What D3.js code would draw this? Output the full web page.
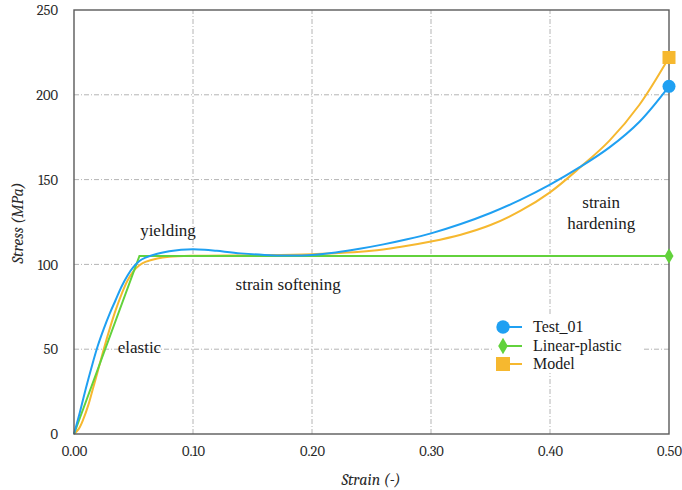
<!DOCTYPE html>
<html><head><meta charset="utf-8">
<script src="https://cdn.jsdelivr.net/npm/d3@7"></script>
<style>body{margin:0;background:#fff}svg{display:block}</style>
</head><body><svg id="c" width="682" height="490"></svg>
<script>
// ---- data ----
const testStrain = [0,0.005,0.01,0.015,0.02,0.025,0.03,0.035,0.04,0.045,0.05,0.055,0.06,0.07,0.08,0.09,0.1,0.11,0.12,0.14,0.16,0.18,0.2,0.22,0.24,0.26,0.28,0.3,0.325,0.35,0.375,0.4,0.425,0.45,0.475,0.5];
const testStress = [0,13,27,40,52,62,71,79,87,93.5,98.5,102,104,106.3,107.8,108.7,109,108.7,108,106.5,105.6,105.3,105.6,107,109.2,111.8,114.8,118.3,123.8,130.3,138,147,157.3,169,184,205];
const linStrain = [0,0.055,0.5];
const linStress = [0,105,105];
const modelStrain = [0,0.004,0.008,0.012,0.016,0.02,0.025,0.03,0.035,0.04,0.045,0.05,0.055,0.06,0.07,0.08,0.1,0.15,0.2,0.25,0.275,0.3,0.325,0.35,0.375,0.4,0.425,0.45,0.475,0.5];
const modelStress = [0,3,9,17,27,37,50,62,73,82.5,90.5,96,99.5,101.5,103.5,104.5,105.1,105.4,106,108,110.4,113.5,117.5,123.2,131.5,142.5,157,173,194,222];
const xTicks = [0,0.1,0.2,0.3,0.4,0.5];
const yTicks = [0,50,100,150,200,250];
const seriesNames = ["Test_01","Linear-plastic","Model"];
const annotations = [
  {t:"yielding", x:0.079, y:117},
  {t:"elastic", x:0.055, y:48},
  {t:"strain softening", x:0.18, y:85},
  {t:"strain", x:0.443, y:133},
  {t:"hardening", x:0.443, y:121}
];

// ---- layout ----
const W=682,H=490, m={l:74,t:10,r:13,b:56};
const svg=d3.select("#c");
const x=d3.scaleLinear().domain([0,0.5]).range([m.l,W-m.r]);
const y=d3.scaleLinear().domain([0,250]).range([H-m.b,m.t]);
const colors={blue:"#1fa0f2",green:"#62d23c",orange:"#f6b82f"};
const TIMES='"Liberation Serif"', CAMB='"Cambria"';

// grid
const g=svg.append("g");
g.selectAll("line.v").data(xTicks.slice(1,-1)).join("line")
 .attr("x1",d=>x(d)).attr("x2",d=>x(d)).attr("y1",y(0)).attr("y2",y(250))
 .attr("stroke","#b4b4b4").attr("stroke-width",1).attr("stroke-dasharray","5,2,1,2");
g.selectAll("line.h").data(yTicks.slice(1,-1)).join("line")
 .attr("x1",x(0)).attr("x2",x(0.5)).attr("y1",d=>y(d)).attr("y2",d=>y(d))
 .attr("stroke","#b4b4b4").attr("stroke-width",1).attr("stroke-dasharray","5,2,1,2");

// tick labels via axes
const xa=svg.append("g").attr("transform",`translate(0,${y(0)})`)
 .call(d3.axisBottom(x).tickValues(xTicks).tickFormat(d3.format(".2f")).tickSize(0).tickPadding(12));
const ya=svg.append("g").attr("transform",`translate(${x(0)},0)`)
 .call(d3.axisLeft(y).tickValues(yTicks).tickFormat(d3.format("d")).tickSize(0).tickPadding(16));
[xa,ya].forEach(a=>{a.select(".domain").remove(); a.attr("font-family",null).attr("font-size",null);
 a.selectAll("text").style("font-family",CAMB).style("font-size","14.5px").attr("fill","#2a2a2a");});

// legend background
const lg=svg.append("g");
lg.append("rect").attr("x",493).attr("y",316).attr("width",149).attr("height",57).attr("fill","#fff");

// lines
const mk=(xs,ys)=>xs.map((v,i)=>[v,ys[i]]);
const smooth=d3.line().x(d=>x(d[0])).y(d=>y(d[1])).curve(d3.curveCatmullRom.alpha(0.5));
const straight=d3.line().x(d=>x(d[0])).y(d=>y(d[1]));
const lin=mk(linStrain,linStress), test=mk(testStrain,testStress), model=mk(modelStrain,modelStress);
svg.append("path").attr("d",smooth(model)).attr("fill","none").attr("stroke",colors.orange).attr("stroke-width",2);
svg.append("path").attr("d",straight(lin)).attr("fill","none").attr("stroke",colors.green).attr("stroke-width",2);
svg.append("path").attr("d",smooth(test)).attr("fill","none").attr("stroke",colors.blue).attr("stroke-width",2);

// frame
svg.append("rect").attr("x",x(0)).attr("y",y(250)).attr("width",x(0.5)-x(0)).attr("height",y(0)-y(250))
 .attr("fill","none").attr("stroke","#5a5a5a").attr("stroke-width",1.4);

// end markers
const lastT=test[test.length-1], lastL=lin[lin.length-1], lastM=model[model.length-1];
svg.append("circle").attr("cx",x(lastT[0])).attr("cy",y(lastT[1])).attr("r",6.5).attr("fill",colors.blue);
svg.append("path").attr("d",d3.symbol(d3.symbolDiamond,70)()).attr("transform",`translate(${x(lastL[0])},${y(lastL[1])})`).attr("fill",colors.green);
svg.append("rect").attr("x",x(lastM[0])-6.5).attr("y",y(lastM[1])-6.5).attr("width",13).attr("height",13).attr("fill",colors.orange);

// annotations
svg.selectAll("text.ann").data(annotations).join("text")
 .attr("x",d=>x(d.x)).attr("y",d=>y(d.y)).attr("text-anchor","middle")
 .style("font-family",TIMES).style("font-size","17px").attr("fill","#1a1a1a").text(d=>d.t);

// legend
const rows=[{c:colors.blue,s:"circle"},{c:colors.green,s:"diamond"},{c:colors.orange,s:"square"}];
const ly=[327,346,364];
rows.forEach((r,i)=>{
  const yy=ly[i];
  lg.append("line").attr("x1",500).attr("x2",522).attr("y1",yy).attr("y2",yy).attr("stroke",r.c).attr("stroke-width",2);
  if(r.s==="circle") lg.append("circle").attr("cx",503).attr("cy",yy).attr("r",6.7).attr("fill",r.c);
  else if(r.s==="diamond") lg.append("path").attr("d",d3.symbol(d3.symbolDiamond,80)()).attr("transform",`translate(503,${yy})`).attr("fill",r.c);
  else lg.append("rect").attr("x",496).attr("y",yy-7).attr("width",14).attr("height",14).attr("fill",r.c);
  lg.append("text").attr("x",533).attr("y",yy+5).style("font-family",TIMES).style("font-size","16px").attr("fill","#1a1a1a").text(seriesNames[i]);
});

// axis titles
svg.append("text").attr("x",371).attr("y",485).attr("text-anchor","middle")
 .style("font-family",CAMB).style("font-style","italic").style("font-size","16px").attr("fill","#2a2a2a").text("Strain (-)");
svg.append("text").attr("transform","translate(23,223) rotate(-90)").attr("text-anchor","middle")
 .style("font-family",CAMB).style("font-style","italic").style("font-size","16px").attr("fill","#2a2a2a").text("Stress (MPa)");
</script></body></html>
